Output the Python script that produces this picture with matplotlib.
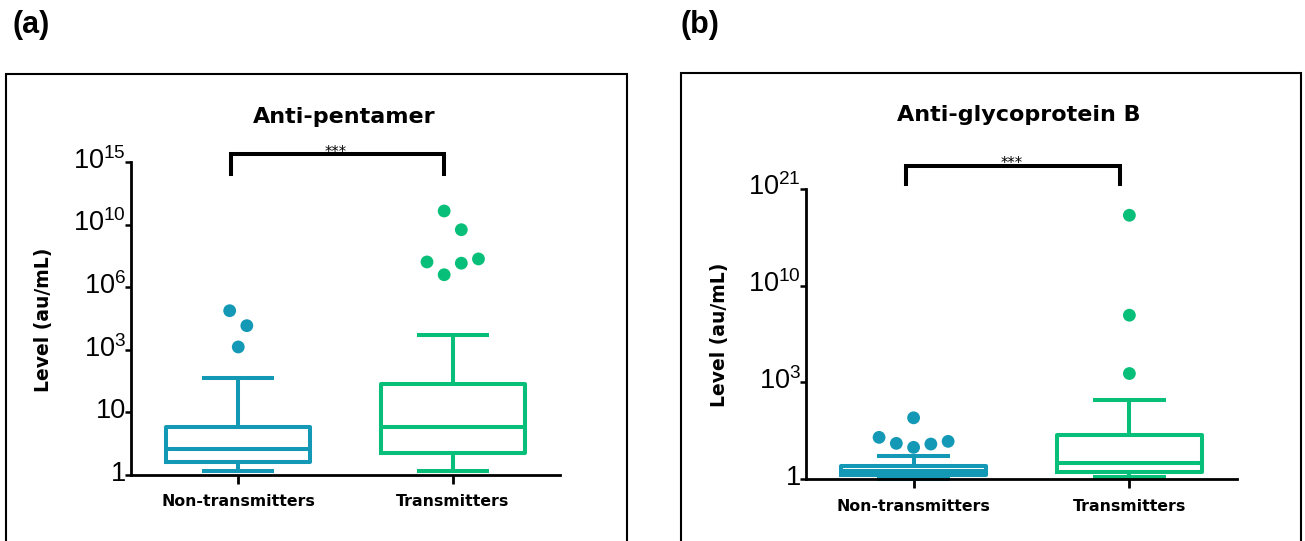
import numpy as np
import matplotlib
matplotlib.use("Agg")
import matplotlib.pyplot as plt
from matplotlib.patches import Rectangle
from matplotlib.ticker import NullLocator
import matplotlib.transforms as mtransforms

plt.rcParams["mathtext.fontset"] = "custom"
plt.rcParams["mathtext.rm"] = "Liberation Sans"
plt.rcParams["font.family"] = ["Liberation Sans", "DejaVu Sans"]

# --- data (au/mL) ---
groups = ["Non-transmitters", "Transmitters"]

# Anti-pentamer: [whislo, q1, med, q3, whishi]
penta_non = [1.09, 1.35, 1.97, 4.83, 92.5]
penta_tra = [1.09, 1.71, 4.83, 59.5, 4.05e3]
penta_non_out = [5.7e4, 1.09e4, 1.3e3]
penta_tra_out = [1.0e11, 4.3e9, 3.1e7, 5.2e6, 2.6e7, 4.8e7]

# Anti-glycoprotein B
gb_non = [1.02, 1.12, 1.26, 1.5, 2.27]
gb_tra = [1.05, 1.22, 1.66, 7.74, 142.6]
gb_non_out = [27.6, 6.43, 4.43, 3.53, 4.26, 5.0]
gb_tra_out = [3.8e17, 2.7e7, 3.0e3]

penta_ticks = [1, 10, 1e3, 1e6, 1e10, 1e15]
penta_ticklabels = ["1", "10", "$10^{3}$", "$10^{6}$", "$10^{10}$", "$10^{15}$"]
gb_ticks = [1, 1e3, 1e10, 1e21]
gb_ticklabels = ["1", "$10^{3}$", "$10^{10}$", "$10^{21}$"]

TEAL = "#1399b5"
GREEN = "#08bf79"


def fwd(v):
    L = np.log10(np.clip(np.asarray(v, dtype=float), 1.0, None))
    return (np.sqrt(1 + 8 * L) - 1) / 2


def inv(p):
    p = np.clip(np.asarray(p, dtype=float), 0, 8)
    return 10 ** (p * (p + 1) / 2)


def stats(q):
    return dict(whislo=q[0], q1=q[1], med=q[2], q3=q[3], whishi=q[4], fliers=[])


def panel(ax, boxes, outliers, offsets, ticks, ticklabels, ylim):
    ax.set_yscale("function", functions=(fwd, inv))
    lw = 2.9
    for i, (q, col) in enumerate(zip(boxes, [TEAL, GREEN])):
        ax.bxp([stats(q)], positions=[i], widths=0.67, capwidths=0.336,
               showfliers=False,
               boxprops=dict(color=col, linewidth=lw),
               medianprops=dict(color=col, linewidth=lw),
               whiskerprops=dict(color=col, linewidth=lw, solid_capstyle="butt"),
               capprops=dict(color=col, linewidth=lw, solid_capstyle="butt"),
               manage_ticks=False)
    for i, (vals, offs, col) in enumerate(zip(outliers, offsets, [TEAL, GREEN])):
        ax.scatter(i + np.array(offs), vals, s=85, color=col, edgecolors="none",
                   zorder=4, clip_on=False)
    for art in ax.lines:
        art.set_clip_on(False)

    ax.set_xlim(-0.5, 1.5)
    ax.set_ylim(*ylim)
    ax.set_yticks(ticks)
    ax.set_yticklabels(ticklabels)
    ax.yaxis.set_minor_locator(NullLocator())
    ax.set_xticks([0, 1])
    ax.set_xticklabels(groups, family="DejaVu Sans", fontweight="bold", fontsize=11.3)
    for s in ["top", "right"]:
        ax.spines[s].set_visible(False)
    for s in ["left", "bottom"]:
        ax.spines[s].set_linewidth(2.0)
    ax.tick_params(axis="y", length=4.5, width=1.8, pad=-1, labelsize=19.5)
    ax.tick_params(axis="x", length=6.5, width=2.0, pad=7.5)
    shift = mtransforms.ScaledTranslation(0, 3 / 72, ax.figure.dpi_scale_trans)
    for lab in ax.get_yticklabels():
        lab.set_transform(lab.get_transform() + shift)


fig = plt.figure(figsize=(13.05, 5.41), dpi=100)

ax1 = fig.add_axes([0.1004, 0.122, 0.3287, 0.5786])
panel(ax1, [penta_non, penta_tra], [penta_non_out, penta_tra_out],
      [[-0.04, 0.04, 0.0], [-0.04, 0.04, -0.12, -0.04, 0.04, 0.12]],
      penta_ticks, penta_ticklabels, (1, 1e15))

ax2 = fig.add_axes([0.6174, 0.114, 0.3307, 0.5373])
panel(ax2, [gb_non, gb_tra], [gb_non_out, gb_tra_out],
      [[0.0, -0.16, -0.08, 0.0, 0.08, 0.16], [0.0, 0.0, 0.0]],
      gb_ticks, gb_ticklabels, (1, 1e21))

# significance brackets
for ax, ytop, ybot, xl, xr in [(ax1, 1.0256, 0.9617, -0.034, 0.961),
                               (ax2, 1.0777, 1.0172, -0.034, 0.958)]:
    tr = ax.get_xaxis_transform()
    ax.plot([xl, xl, xr, xr], [ybot, ytop, ytop, ybot], color="black", lw=2.9,
            transform=tr, clip_on=False, solid_joinstyle="miter")
    ax.text((xl + xr) / 2 - 0.01, ytop - 0.018, "***", transform=tr, ha="center",
            va="bottom", fontsize=10.5, family="DejaVu Sans", zorder=5)

# titles and y labels
fig.text(0.2636, 0.7837, "Anti-pentamer", ha="center", va="center",
         family="DejaVu Sans", fontweight="bold", fontsize=16)
fig.text(0.781, 0.7874, "Anti-glycoprotein B", ha="center", va="center",
         family="DejaVu Sans", fontweight="bold", fontsize=16)
fig.text(0.033, 0.4085, "Level (au/mL)", rotation=90, ha="center", va="center",
         family="DejaVu Sans", fontweight="bold", fontsize=13.5)
fig.text(0.5517, 0.3808, "Level (au/mL)", rotation=90, ha="center", va="center",
         family="DejaVu Sans", fontweight="bold", fontsize=13.5)

# panel letters and frames
fig.text(12 / 1305, 1 - 25 / 541, "(a)", ha="left", va="center",
         fontweight="bold", fontsize=22)
fig.text(681 / 1305, 1 - 25 / 541, "(b)", ha="left", va="center",
         fontweight="bold", fontsize=22)
fig.patches.append(Rectangle((6 / 1305, -0.05), (627 - 6) / 1305, 0.05 + 467 / 541,
                             transform=fig.transFigure, fill=False, lw=1.5,
                             edgecolor="black"))
fig.patches.append(Rectangle((681 / 1305, -0.05), (1301 - 681) / 1305, 0.05 + 468 / 541,
                             transform=fig.transFigure, fill=False, lw=1.5,
                             edgecolor="black"))

fig.savefig("out.png", dpi=100)
